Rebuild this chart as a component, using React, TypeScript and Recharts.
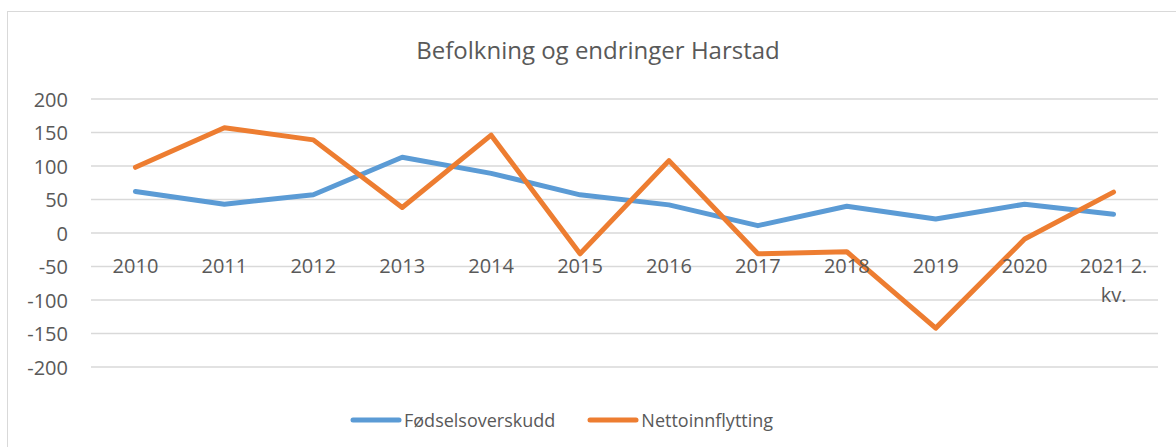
import React from "react";
import { LineChart, Line, XAxis, YAxis, CartesianGrid } from "recharts";

const years = [
  "2010", "2011", "2012", "2013", "2014", "2015",
  "2016", "2017", "2018", "2019", "2020", "2021 2. kv.",
];
const fodselsoverskudd = [62, 43, 57, 113, 89, 57, 42, 11, 40, 21, 43, 28];
const nettoinnflytting = [98, 157, 139, 38, 146, -31, 108, -31, -28, -142, -9, 61];
const yTicks = [-200, -150, -100, -50, 0, 50, 100, 150, 200];

const data = years.map((year, i) => ({
  year,
  fodsel: fodselsoverskudd[i],
  netto: nettoinnflytting[i],
}));

const W = 1176;
const H = 447;
const PLOT_TOP = 99;
const PLOT_BOTTOM = 367;
const PLOT_LEFT = 91;
const PLOT_RIGHT = 1158;
const ZERO_Y = (PLOT_TOP + PLOT_BOTTOM) / 2;
const HALF_STEP = (PLOT_RIGHT - PLOT_LEFT) / years.length / 2;

const FONT = "'Open Sans', 'Noto Sans', sans-serif";
const TEXT = "#595959";
const BLUE = "#5B9BD5";
const ORANGE = "#ED7D31";

// y labels sit right-aligned left of the plot
const YTick = (props: any) => {
  const { y, payload } = props;
  return (
    <text x={68} y={y} textAnchor="end" dominantBaseline="central" fill={TEXT} fontSize={20} fontFamily={FONT}>
      {payload.value}
    </text>
  );
};

// x labels hang under the zero line, long ones wrap the last word
const XTick = (props: any) => {
  const { x, payload } = props;
  const words = String(payload.value).split(" ");
  const lines = words.length > 2 ? [words.slice(0, -1).join(" "), words[words.length - 1]] : [payload.value];
  return (
    <g>
      {lines.map((l: string, i: number) => (
        <text key={i} x={x} y={ZERO_Y + 32 + i * 29} textAnchor="middle" dominantBaseline="central" fill={TEXT} fontSize={20} fontFamily={FONT}>
          {l}
        </text>
      ))}
    </g>
  );
};

const legendItems = [
  { name: "Fødselsoverskudd", color: BLUE },
  { name: "Nettoinnflytting", color: ORANGE },
];

export default function App() {
  return (
    <div style={{ position: "absolute", left: 0, top: 0, width: W, height: H, background: "#fff", overflow: "hidden" }}>
      <div
        style={{
          position: "absolute", left: 7, top: 11, width: W, height: H,
          border: "1.5px solid #D9D9D9", boxSizing: "border-box",
        }}
      />
      <div
        style={{
          position: "absolute", left: 0, width: 1196, top: 33, textAlign: "center",
          fontFamily: FONT, fontSize: 24, color: TEXT,
        }}
      >
        Befolkning og endringer Harstad
      </div>
      <LineChart
        width={W}
        height={H}
        data={data}
        margin={{ top: PLOT_TOP, right: W - PLOT_RIGHT, left: PLOT_LEFT - 60, bottom: H - PLOT_BOTTOM - 30 }}
        style={{ position: "absolute", left: 0, top: 0 }}
      >
        <CartesianGrid vertical={false} stroke="#D9D9D9" strokeWidth={1.5} />
        <XAxis
          dataKey="year"
          axisLine={false}
          tickLine={false}
          height={30}
          interval={0}
          padding={{ left: HALF_STEP, right: HALF_STEP }}
          tick={<XTick />}
        />
        <YAxis
          domain={[-200, 200]}
          ticks={yTicks}
          width={60}
          axisLine={false}
          tickLine={false}
          tick={<YTick />}
        />
        <Line
          type="linear"
          dataKey="fodsel"
          name="Fødselsoverskudd"
          stroke={BLUE}
          strokeWidth={5}
          strokeLinecap="round"
          strokeLinejoin="round"
          dot={false}
          isAnimationActive={false}
        />
        <Line
          type="linear"
          dataKey="netto"
          name="Nettoinnflytting"
          stroke={ORANGE}
          strokeWidth={5}
          strokeLinecap="round"
          strokeLinejoin="round"
          dot={false}
          isAnimationActive={false}
        />
      </LineChart>
      <div
        style={{
          position: "absolute", left: 350, top: 408, display: "flex", gap: 32,
          fontFamily: FONT, fontSize: 18, color: TEXT,
        }}
      >
        {legendItems.map((it) => (
          <div key={it.name} style={{ display: "flex", alignItems: "center" }}>
            <svg width={52} height={10}>
              <line x1={3} y1={5} x2={49} y2={5} stroke={it.color} strokeWidth={5} strokeLinecap="round" />
            </svg>
            <span style={{ marginLeft: 2 }}>{it.name}</span>
          </div>
        ))}
      </div>
    </div>
  );
}
